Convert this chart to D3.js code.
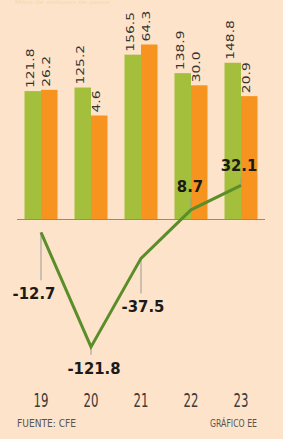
<!DOCTYPE html>
<html><head><meta charset="utf-8">
<script src="https://cdn.jsdelivr.net/npm/d3@7"></script>
<style>
html,body{margin:0;padding:0;background:#fde3c9;}
svg{display:block}
text{font-family:'DejaVu Sans Condensed','DejaVu Sans',sans-serif;font-stretch:condensed;}
</style>
</head><body><svg id="c" width="283" height="439"></svg>
<script>
// ---- data ----
const years = ["19","20","21","22","23"];
const greenValues = [121.8,125.2,156.5,138.9,148.8];
const orangeValues = [26.2,4.6,64.3,30.0,20.9];
const lineValues = [-12.7,-121.8,-37.5,8.7,32.1];
const greenLabels = ["121.8","125.2","156.5","138.9","148.8"];
const orangeLabels = ["26.2","4.6","64.3","30.0","20.9"];
const lineLabels = ["-12.7","-121.8","-37.5","8.7","32.1"];
const topText = "Miles de millones de pesos";
const sourceText = "FUENTE: CFE";
const creditText = "GRÁFICO EE";

// ---- layout (kept separate from data) ----
const leaderLen = [48, 8, 35, -12, -8];
const labelDx = [-7, 3, 2, -1, -2];

const svg = d3.select("#c");
const baseY = 219;
const barW = 16.5;
const x = d3.scalePoint().domain(years).range([41, 241]);
const y = d3.scaleLinear().domain([0, 156.5]).range([baseY, baseY - 156.5*1.05]);
const y2 = d3.scaleLinear().domain([0, 64.3]).range([121, 44.5]);

const cGreen = "#a4bf3b", cOrange = "#f7941f", cLine = "#5a8e2b";

// faint title at the very top
svg.append("text").attr("x", 15).attr("y", 4).attr("font-size", 5)
  .attr("textLength", 95).attr("lengthAdjust", "spacingAndGlyphs")
  .attr("fill", "#f6d8a4").text(topText);

// green bars
svg.selectAll("rect.g").data(years).join("rect").attr("class","g")
  .attr("x", d => x(d) - barW).attr("width", barW)
  .attr("y", (d,i) => y(greenValues[i]))
  .attr("height", (d,i) => baseY - y(greenValues[i]))
  .attr("fill", cGreen);
// orange bars
svg.selectAll("rect.o").data(years).join("rect").attr("class","o")
  .attr("x", d => x(d)).attr("width", barW)
  .attr("y", (d,i) => y2(orangeValues[i]))
  .attr("height", (d,i) => baseY - y2(orangeValues[i]))
  .attr("fill", cOrange);

// rotated bar labels
function barLabel(cls, labels, left, top) {
  svg.selectAll("text."+cls).data(years).join("text").attr("class", cls)
    .attr("transform", (d,i) => `translate(${left(d)+9},${top(i)-3}) scale(1,1.4) rotate(-90)`)
    .attr("font-size", 11).attr("fill", "#333")
    .text((d,i) => labels[i]);
}
barLabel("gl", greenLabels, d => x(d) - barW, i => y(greenValues[i]));
barLabel("ol", orangeLabels, d => x(d), i => y2(orangeValues[i]));

// baseline
svg.append("line").attr("x1", 17).attr("x2", 265).attr("y1", baseY + 0.5).attr("y2", baseY + 0.5)
  .attr("stroke", "#8c8c8c").attr("stroke-width", 1);

// leader lines
svg.selectAll("line.ld").data(years).join("line").attr("class","ld")
  .attr("x1", d => x(d)).attr("x2", d => x(d))
  .attr("y1", (d,i) => y(lineValues[i]))
  .attr("y2", (d,i) => y(lineValues[i]) + leaderLen[i])
  .attr("stroke", "#9a9a9a").attr("stroke-width", 1);

// line
const line = d3.line().x((d,i) => x(years[i])).y(d => y(d));
svg.append("path").attr("d", line(lineValues)).attr("fill", "none")
  .attr("stroke", cLine).attr("stroke-width", 3).attr("stroke-linejoin", "miter");

// line labels
svg.selectAll("text.ll").data(years).join("text").attr("class","ll")
  .attr("x", (d,i) => x(d) + labelDx[i])
  .attr("y", (d,i) => {
    const e = y(lineValues[i]) + leaderLen[i];
    return leaderLen[i] > 0 ? e + 19 : e - 6;
  })
  .attr("text-anchor", "middle").attr("font-size", 16.5).attr("font-weight", "bold")
  .attr("fill", "#1a1a1a").text((d,i) => lineLabels[i]);

// x axis labels
svg.selectAll("text.ax").data(years).join("text").attr("class","ax")
  .attr("transform", d => `translate(${x(d)},407) scale(1,1.47)`)
  .attr("text-anchor", "middle").attr("font-size", 13).attr("fill", "#3a3a3a")
  .text(d => d);

// footer
svg.append("text").attr("x", 17).attr("y", 427).attr("font-size", 10).attr("fill", "#555")
  .attr("textLength", 59).attr("lengthAdjust", "spacingAndGlyphs").text(sourceText);
svg.append("text").attr("x", 210).attr("y", 427).attr("font-size", 10).attr("fill", "#555")
  .attr("textLength", 47).attr("lengthAdjust", "spacingAndGlyphs").text(creditText);
</script>
</body></html>
